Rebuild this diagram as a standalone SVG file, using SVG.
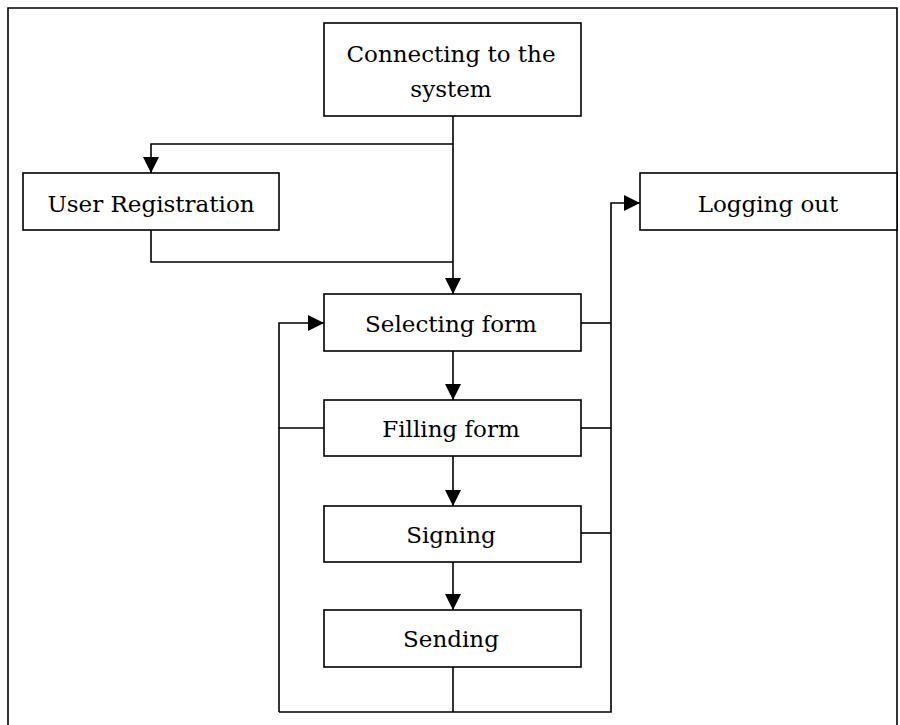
<svg xmlns="http://www.w3.org/2000/svg" width="900" height="725" viewBox="0 0 900 725">
<style>
.box{fill:#fff;stroke:#000;stroke-width:1.6}
.t{font-family:"DejaVu Serif","Liberation Serif",serif;font-size:23px;fill:#000;text-anchor:middle}
.c{fill:none;stroke:#000;stroke-width:1.6}
</style>
<defs>
<marker id="ah" markerUnits="userSpaceOnUse" markerWidth="17" markerHeight="17" refX="16" refY="8" orient="auto">
<path d="M0,0 L16,8 L0,16 z" fill="#000"/>
</marker>
</defs>
<rect width="900" height="725" fill="#fff"/>
<path d="M8,725 V8 H897 V725" class="c"/>
<g id="connectors">
<path class="c" d="M453,116 V294" marker-end="url(#ah)"/>
<path class="c" d="M453,144 H151 V173" marker-end="url(#ah)"/>
<path class="c" d="M151,230 V262 H453"/>
<path class="c" d="M453,351 V400" marker-end="url(#ah)"/>
<path class="c" d="M453,456 V506" marker-end="url(#ah)"/>
<path class="c" d="M453,562 V610" marker-end="url(#ah)"/>
<path class="c" d="M453,667 V712"/>
<path class="c" d="M279,712 H611 V203 H640" marker-end="url(#ah)"/>
<path class="c" d="M324,428 H279 V323 H324" marker-end="url(#ah)"/>
<path class="c" d="M279,428 V712"/>
<path class="c" d="M581,323 H611"/>
<path class="c" d="M581,428 H611"/>
<path class="c" d="M581,533 H611"/>
</g>
<g id="connecting">
<rect class="box" x="324" y="23" width="257" height="93"/>
<text class="t" x="451" y="62">Connecting to the</text>
<text class="t" x="451" y="97">system</text>
</g>
<g id="user-registration">
<rect class="box" x="23" y="173" width="256" height="57"/>
<text class="t" x="151" y="212">User Registration</text>
</g>
<g id="logging-out">
<rect class="box" x="640" y="173" width="257" height="57"/>
<text class="t" x="768" y="212">Logging out</text>
</g>
<g id="selecting-form">
<rect class="box" x="324" y="294" width="257" height="57"/>
<text class="t" x="451" y="332">Selecting form</text>
</g>
<g id="filling-form">
<rect class="box" x="324" y="400" width="257" height="56"/>
<text class="t" x="451" y="437">Filling form</text>
</g>
<g id="signing">
<rect class="box" x="324" y="506" width="257" height="56"/>
<text class="t" x="451" y="543">Signing</text>
</g>
<g id="sending">
<rect class="box" x="324" y="610" width="257" height="57"/>
<text class="t" x="451" y="647">Sending</text>
</g>
</svg>
